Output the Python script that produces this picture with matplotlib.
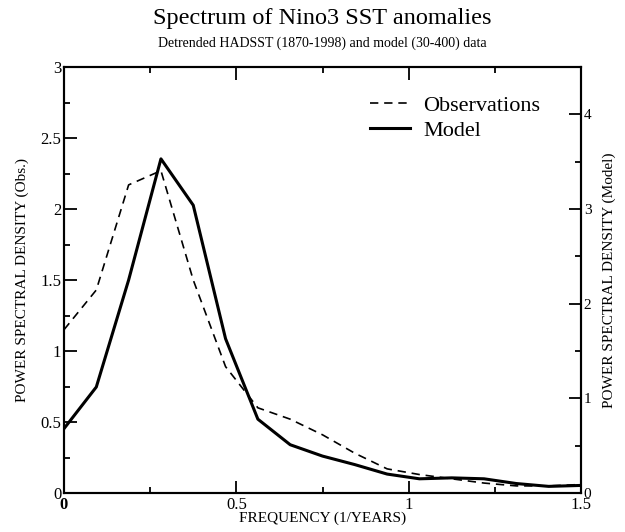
import matplotlib
matplotlib.use("Agg")
import matplotlib.pyplot as plt
from matplotlib.ticker import MultipleLocator, FormatStrFormatter

# =====================================================
# DATA
# =====================================================

freq_step = 0.09375
n_freq = 17

obs_psd = [1.15, 1.43, 2.17, 2.27, 1.50, 0.89, 0.60, 0.52, 0.41,
           0.28, 0.17, 0.13, 0.10, 0.07, 0.05, 0.05, 0.06]

model_psd = [0.68, 1.12, 2.25, 3.53, 3.04, 1.63, 0.78, 0.51, 0.39,
             0.30, 0.20, 0.15, 0.16, 0.15, 0.10, 0.07, 0.08]

freq = [i * freq_step for i in range(n_freq)]

x_ticks = [0, 0.5, 1, 1.5]
x_ticklabels = ["0", "0.5", "1", "1.5"]

# =====================================================
# STYLE
# =====================================================

plt.rcParams["font.family"] = ["Liberation Serif", "DejaVu Serif"]
plt.rcParams["axes.linewidth"] = 1.5

fig = plt.figure(figsize=(6.25, 5.32), dpi=100)
ax = fig.add_axes([0.1024, 0.0733, 0.8272, 0.8007])
ax2 = ax.twinx()

# =====================================================
# CURVES
# =====================================================

l_obs, = ax.plot(freq, obs_psd, color="black", lw=1.2,
                 dashes=(5, 3.5), label="Observations")
l_mod, = ax2.plot(freq, model_psd, color="black", lw=2.2,
                  label="Model")

# =====================================================
# AXES
# =====================================================

ax.set_xlim(0, 1.5)
ax.set_ylim(0, 3)
ax2.set_ylim(0, 4.5)

ax.set_xticks(x_ticks)
ax.set_xticklabels(x_ticklabels)
ax.xaxis.set_minor_locator(MultipleLocator(0.25))
ax.yaxis.set_major_locator(MultipleLocator(0.5))
ax.yaxis.set_minor_locator(MultipleLocator(0.25))
ax.yaxis.set_major_formatter(FormatStrFormatter("%g"))
ax2.yaxis.set_major_locator(MultipleLocator(1))
ax2.yaxis.set_minor_locator(MultipleLocator(0.5))
ax2.yaxis.set_major_formatter(FormatStrFormatter("%g"))

ax.tick_params(which="both", direction="in", top=True, width=1.3)
ax.tick_params(which="major", length=9)
ax.tick_params(which="minor", length=4.5)
ax.tick_params(axis="x", labelsize=12, pad=3)
ax.tick_params(axis="y", labelsize=12, pad=2)
ax2.tick_params(which="both", direction="in", width=1.3)
ax2.tick_params(which="major", length=9, labelsize=11, pad=2)
ax2.tick_params(which="minor", length=4.5)

# bold origin label on the frequency axis
ax.get_xticklabels()[0].set_fontweight("bold")

ax.set_xlabel("FREQUENCY (1/YEARS)", fontsize=11, labelpad=-1)
ax.set_ylabel("POWER SPECTRAL DENSITY (Obs.)", fontsize=11, labelpad=8)
ax2.set_ylabel("POWER SPECTRAL DENSITY (Model)", fontsize=11, labelpad=8)

# =====================================================
# LEGEND + TITLES
# =====================================================

ax.legend(handles=[l_obs, l_mod], loc="upper right", frameon=False,
          fontsize=16, handlelength=1.8, handletextpad=0.6,
          labelspacing=0.2, bbox_to_anchor=(0.96, 0.98))

fig.text(0.516, 0.955, "Spectrum of Nino3 SST anomalies",
         ha="center", va="baseline", fontsize=17.5)
fig.text(0.516, 0.912,
         "Detrended HADSST (1870-1998) and model (30-400) data",
         ha="center", va="baseline", fontsize=10)

fig.savefig("out.png", dpi=100)
